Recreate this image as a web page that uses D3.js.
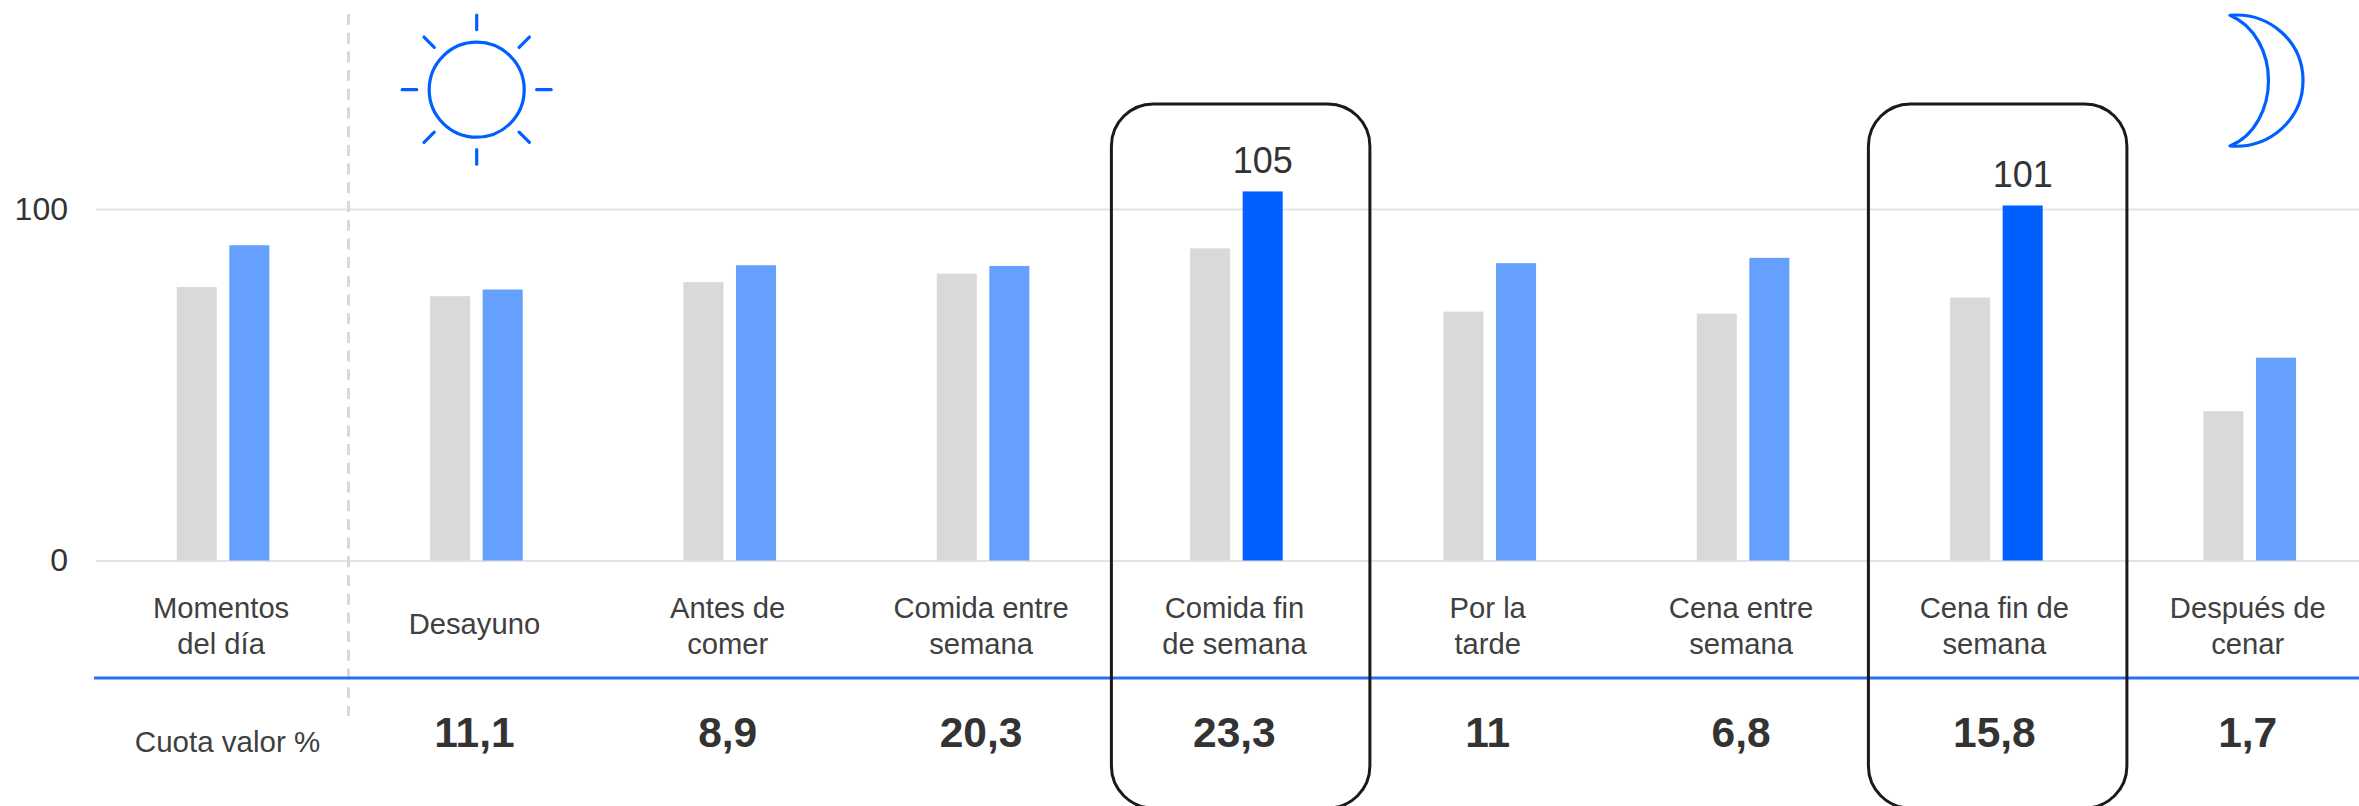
<!DOCTYPE html>
<html lang="es">
<head>
<meta charset="utf-8">
<title>Momentos del día</title>
<script src="https://cdn.jsdelivr.net/npm/d3@7"></script>
<style>
  html, body { margin: 0; padding: 0; background: #fff; }
  svg { display: block; font-family: "Liberation Sans", Arial, sans-serif; }
</style>
</head>
<body>
<svg id="chart" width="2359" height="806"></svg>
<script>
// Chart data
const categories = ["Momentos del día", "Desayuno", "Antes de comer", "Comida entre semana",
  "Comida fin de semana", "Por la tarde", "Cena entre semana", "Cena fin de semana", "Después de cenar"];
const categoryLines = [["Momentos", "del día"], ["Desayuno"], ["Antes de", "comer"], ["Comida entre", "semana"],
  ["Comida fin", "de semana"], ["Por la", "tarde"], ["Cena entre", "semana"], ["Cena fin de", "semana"], ["Después de", "cenar"]];
const grayValues = [77.8, 75.2, 79.2, 81.6, 88.8, 70.8, 70.2, 74.8, 42.5];
const blueValues = [89.7, 77.1, 84, 83.8, 105, 84.6, 86.1, 101, 57.7];
const shareLabels = [null, "11,1", "8,9", "20,3", "23,3", "11", "6,8", "15,8", "1,7"];
const yTicks = [0, 100];
const highlighted = ["Comida fin de semana", "Cena fin de semana"];
const highlightOffsets = [-125, -128];
const labelledBars = { "Comida fin de semana": "105", "Cena fin de semana": "101" };

const GRAY = "#d9d9d9", LIGHT_BLUE = "#66a0ff", BLUE = "#0060ff", TEXT = "#404040", STRONG = "#333333";

const svg = d3.select("#chart");

const x = d3.scaleBand().domain(categories).range([96.4, 2376.4]);
const inner = d3.scaleBand().domain(["gray", "blue"]).range([-46.3, 46.3]).paddingInner(0.238);
const y = d3.scaleLinear().domain([0, 100]).range([560.5, 209]);
const labelX = c => x(c) + x.bandwidth() / 2 - 2;

// Value axis with its horizontal gridlines
const axis = svg.append("g").attr("transform", "translate(96,0)")
  .call(d3.axisLeft(y).tickValues(yTicks).tickSize(-2263).tickPadding(28).tickFormat(d3.format("d")));
axis.select(".domain").remove();
axis.selectAll(".tick line").attr("stroke", "#e3e3e3").attr("stroke-width", 2);
axis.selectAll(".tick text")
  .attr("font-size", 32).attr("font-family", "Liberation Sans").attr("fill", STRONG);

// Paired bars per moment of the day
const groups = svg.append("g").selectAll("g").data(categories).join("g")
  .attr("transform", c => `translate(${x(c) + x.bandwidth() / 2},0)`);
groups.append("rect")
  .attr("x", inner("gray")).attr("width", inner.bandwidth())
  .attr("y", (c, i) => y(grayValues[i])).attr("height", (c, i) => y(0) - y(grayValues[i]))
  .attr("fill", GRAY);
groups.append("rect")
  .attr("x", inner("blue")).attr("width", inner.bandwidth())
  .attr("y", (c, i) => y(blueValues[i])).attr("height", (c, i) => y(0) - y(blueValues[i]))
  .attr("fill", c => highlighted.includes(c) ? BLUE : LIGHT_BLUE);

// Value labels over the highlighted bars
groups.filter(c => labelledBars[c]).append("text")
  .attr("x", inner("blue") + inner.bandwidth() / 2)
  .attr("y", c => y(blueValues[categories.indexOf(c)]) - 18)
  .attr("text-anchor", "middle").attr("font-size", 36).attr("fill", STRONG)
  .text(c => labelledBars[c]);

// Separator between the total column and the moments, and the rule above the share row
svg.append("line").attr("x1", 348.5).attr("x2", 348.5).attr("y1", 14).attr("y2", 716)
  .attr("stroke", "#d9d9d9").attr("stroke-width", 3).attr("stroke-dasharray", "11 7.7");
svg.append("line").attr("x1", 94).attr("x2", 2359).attr("y1", 678).attr("y2", 678)
  .attr("stroke", "#2a6ff0").attr("stroke-width", 3);

// Category labels, one or two lines
const catLabels = svg.append("g").selectAll("text").data(categories).join("text")
  .attr("text-anchor", "middle").attr("font-size", 29.2).attr("fill", TEXT)
  .attr("transform", c => `translate(${labelX(c)},0)`);
catLabels.selectAll("tspan").data((c, i) => categoryLines[i].map((t, k, a) => ({ t, k, n: a.length })))
  .join("tspan").attr("x", 0)
  .attr("y", d => d.n === 1 ? 634 : 618 + d.k * 35.5)
  .text(d => d.t);

// Share of value row
svg.append("text").attr("x", 227.5).attr("y", 751.5).attr("text-anchor", "middle")
  .attr("font-size", 29.5).attr("fill", TEXT).text("Cuota valor %");
svg.append("g").selectAll("text").data(categories.filter((c, i) => shareLabels[i])).join("text")
  .attr("x", labelX).attr("y", 747).attr("text-anchor", "middle")
  .attr("font-size", 42.5).attr("font-weight", 700).attr("fill", STRONG)
  .text(c => shareLabels[categories.indexOf(c)]);

// Rounded outlines around the highlighted moments
svg.append("g").selectAll("rect").data(highlighted).join("rect")
  .attr("x", (c, i) => x(c) + x.bandwidth() / 2 + highlightOffsets[i]).attr("width", 258.5)
  .attr("y", 104).attr("height", 704).attr("rx", 42).attr("ry", 42)
  .attr("fill", "none").attr("stroke", "#1a1a1a").attr("stroke-width", 3);

// Sun icon
const sun = svg.append("g").attr("transform", "translate(476.7,89.7)")
  .attr("fill", "none").attr("stroke", BLUE).attr("stroke-width", 3.2).attr("stroke-linecap", "round");
sun.append("circle").attr("r", 47.5);
sun.selectAll("line").data(d3.range(8)).join("line")
  .attr("x1", d => 60 * Math.cos(d * Math.PI / 4)).attr("y1", d => 60 * Math.sin(d * Math.PI / 4))
  .attr("x2", d => 74.5 * Math.cos(d * Math.PI / 4)).attr("y2", d => 74.5 * Math.sin(d * Math.PI / 4));

// Moon icon
svg.append("path")
  .attr("d", "M2230,15.3 C2270,12 2303,42 2303,80.6 C2303,119 2270,149 2230,146 C2255,136 2268.5,108 2268.5,80.6 C2268.5,53 2255,26 2230,15.3 Z")
  .attr("fill", "none").attr("stroke", BLUE).attr("stroke-width", 3.2).attr("stroke-linejoin", "round");
</script>
</body>
</html>
